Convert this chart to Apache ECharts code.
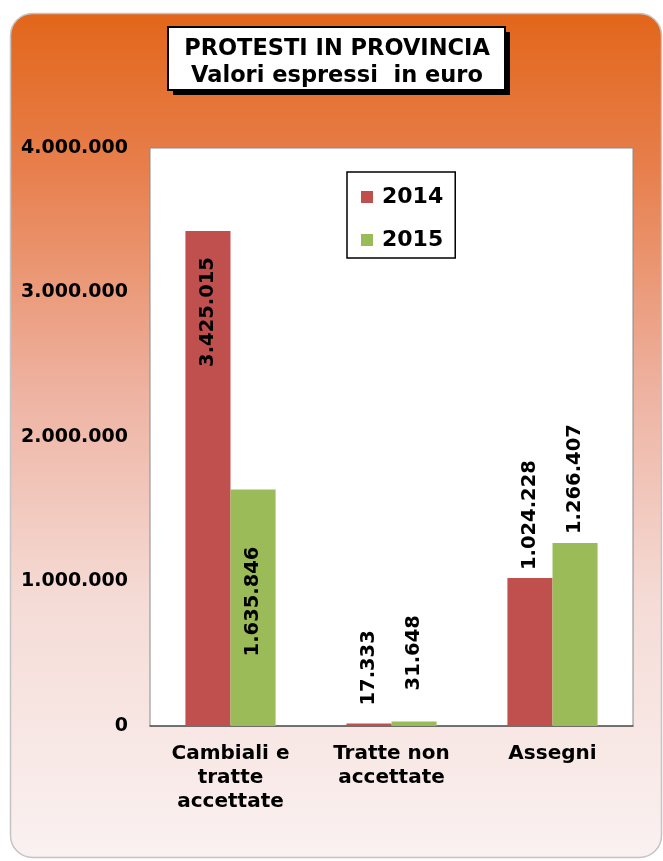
<!DOCTYPE html>
<html>
<head>
<meta charset="utf-8">
<script src="https://cdn.jsdelivr.net/npm/echarts@6/dist/echarts.min.js"></script>
<style>
  html, body { margin: 0; padding: 0; background: #ffffff; }
  #chart { width: 663px; height: 861px; }
</style>
</head>
<body>
<div id="chart"></div>
<script>
// Protesti in provincia, importi in euro
var categories = ['Cambiali e\ntratte\naccettate', 'Tratte non\naccettate', 'Assegni'];
var seriesNames = ['2014', '2015'];
var values2014 = [3425015, 17333, 1024228];
var values2015 = [1635846, 31648, 1266407];
var yTicks = { min: 0, max: 4000000, step: 1000000 };

var FONT = '"DejaVu Sans", "Liberation Sans", Arial, sans-serif';

function fmtIt(v) {
  return String(v).replace(/\B(?=(\d{3})+(?!\d))/g, '.');
}

// label placement per bar: inside the tall ones, above the short ones
var labelPlace2014 = [
  { position: 'insideTop', distance: 26, align: 'right' },
  { position: 'top', distance: 18, align: 'left' },
  { position: 'top', distance: 8, align: 'left' }
];
var labelPlace2015 = [
  { position: 'insideTop', distance: 57, align: 'right' },
  { position: 'top', distance: 31, align: 'left' },
  { position: 'top', distance: 9, align: 'left' }
];

function buildData(values, places) {
  return values.map(function (v, i) {
    var p = places[i];
    return {
      value: v,
      label: {
        show: true,
        position: p.position,
        distance: p.distance,
        rotate: 90,
        align: p.align,
        verticalAlign: 'middle',
        formatter: function (d) { return fmtIt(d.value); },
        color: '#000',
        fontFamily: FONT,
        fontWeight: 'bold',
        fontSize: 19.5
      }
    };
  });
}

var chart = echarts.init(document.getElementById('chart'), null, { renderer: 'canvas' });

chart.setOption({
  animation: false,
  backgroundColor: '#ffffff',
  graphic: [
    {
      // rounded panel behind the whole chart
      type: 'rect',
      z: -10,
      shape: { x: 10.5, y: 13.5, width: 651, height: 844, r: 22 },
      style: {
        fill: new echarts.graphic.LinearGradient(0, 0, 0, 1, [
          { offset: 0, color: '#E2661A' },
          { offset: 0.18, color: '#E77E4B' },
          { offset: 0.45, color: '#EEB3A2' },
          { offset: 0.7, color: '#F5DCD7' },
          { offset: 1, color: '#FAF1F1' }
        ]),
        stroke: '#c4c4c4',
        lineWidth: 1.5
      }
    },
    {
      // hard drop shadow of the title box
      type: 'rect',
      z: 4,
      shape: { x: 173, y: 32, width: 337, height: 63 },
      style: { fill: '#000000' }
    },
    {
      // title box
      type: 'rect',
      z: 5,
      shape: { x: 168, y: 27, width: 337, height: 63 },
      style: {
        fill: '#ffffff',
        stroke: '#000000',
        lineWidth: 2
      }
    }
  ],
  title: {
    text: 'PROTESTI IN PROVINCIA\nValori espressi  in euro',
    left: 332,
    top: 31,
    textAlign: 'center',
    z: 10,
    textStyle: {
      fontFamily: FONT,
      fontWeight: 'bold',
      fontSize: 22.5,
      lineHeight: 27,
      color: '#000'
    }
  },
  legend: {
    data: seriesNames,
    orient: 'vertical',
    left: 347,
    top: 172,
    backgroundColor: '#ffffff',
    borderColor: '#000000',
    borderWidth: 1.5,
    borderRadius: 0,
    padding: [12, 12, 5, 14],
    itemGap: 17,
    itemWidth: 12,
    itemHeight: 12,
    icon: 'rect',
    textStyle: {
      fontFamily: FONT,
      fontWeight: 'bold',
      fontSize: 22,
      lineHeight: 26,
      color: '#000',
      padding: [0, 0, 0, 4]
    }
  },
  grid: {
    left: 150,
    right: 30,
    top: 148,
    bottom: 135,
    show: true,
    backgroundColor: '#ffffff',
    borderColor: '#8a8a8a',
    borderWidth: 1
  },
  xAxis: {
    type: 'category',
    data: categories,
    axisTick: { show: false },
    axisLine: { show: true, lineStyle: { color: '#555', width: 1.5 } },
    axisLabel: {
      margin: 16,
      interval: 0,
      fontFamily: FONT,
      fontWeight: 'bold',
      fontSize: 20,
      lineHeight: 24,
      color: '#000'
    }
  },
  yAxis: {
    type: 'value',
    min: yTicks.min,
    max: yTicks.max,
    interval: yTicks.step,
    splitLine: { show: false },
    axisLine: { show: false },
    axisTick: { show: false },
    axisLabel: {
      margin: 22,
      fontFamily: FONT,
      fontWeight: 'bold',
      fontSize: 19,
      color: '#000',
      formatter: function (v) { return fmtIt(v); }
    }
  },
  series: [
    {
      name: seriesNames[0],
      type: 'bar',
      data: buildData(values2014, labelPlace2014),
      itemStyle: { color: '#C0504D' },
      barGap: '0%',
      barCategoryGap: '44%'
    },
    {
      name: seriesNames[1],
      type: 'bar',
      data: buildData(values2015, labelPlace2015),
      itemStyle: { color: '#9BBB59' },
      barGap: '0%',
      barCategoryGap: '44%'
    }
  ]
});
</script>
</body>
</html>
